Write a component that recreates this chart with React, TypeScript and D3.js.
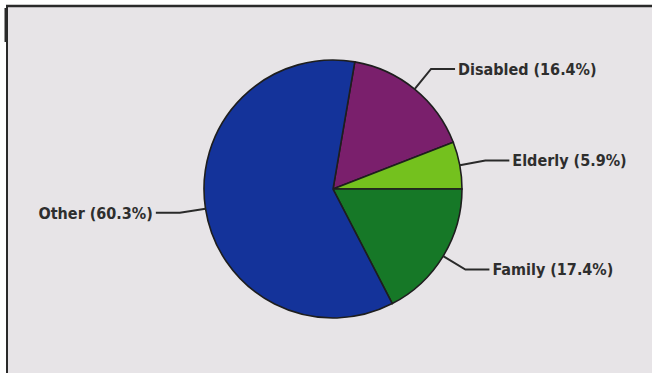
import React from "react";
import * as d3 from "d3";

const categories = ["Disabled", "Elderly", "Family", "Other"];
const values = [16.4, 5.9, 17.4, 60.3];
const colors = ["#7a1f6c", "#74c11e", "#167827", "#14339a"];

const W = 652;
const H = 373;
const cx = 333;
const cy = 189;
const R = 129;

export default function App() {
  const total = d3.sum(values);
  const start = Math.PI / 2 - 2 * Math.PI * ((values[0] + values[1]) / total);
  const pie = d3
    .pie<number>()
    .sort(null)
    .value((d) => d)
    .startAngle(start)
    .endAngle(start + 2 * Math.PI);
  const arcs = pie(values);
  const arc = d3.arc<d3.PieArcDatum<number>>().innerRadius(0).outerRadius(R);
  const outer = d3.arc<d3.PieArcDatum<number>>().innerRadius(R + 26).outerRadius(R + 26);
  const edge = d3.arc<d3.PieArcDatum<number>>().innerRadius(R).outerRadius(R);

  return (
    <svg
      width={W}
      height={H}
      style={{ position: "absolute", left: 0, top: 0, display: "block" }}
    >
      <rect x={0} y={0} width={W} height={H} fill="#ffffff" />
      <rect x={7} y={7} width={W - 7} height={H - 7} fill="#e7e4e7" />
      <line x1={6} y1={6} x2={W} y2={6} stroke="#2a2a2a" strokeWidth={2.5} />
      <line x1={7} y1={6} x2={7} y2={H} stroke="#2a2a2a" strokeWidth={2} />
      <line x1={5.5} y1={8} x2={5.5} y2={42} stroke="#2a2a2a" strokeWidth={2} />
      <g transform={`translate(${cx},${cy})`}>
        {arcs.map((a, i) => (
          <path
            key={categories[i]}
            d={arc(a) || ""}
            fill={colors[i]}
            stroke="#1e1e1e"
            strokeWidth={1.6}
          />
        ))}
        {arcs.map((a, i) => {
          const [x0, y0] = edge.centroid(a);
          const [x1, y1] = outer.centroid(a);
          const right = x1 > 0;
          const x2 = x1 + (right ? 24 : -24);
          return (
            <g key={"l" + categories[i]}>
              <polyline
                points={`${x0},${y0} ${x1},${y1} ${x2},${y1}`}
                fill="none"
                stroke="#2a2a2a"
                strokeWidth={2}
              />
              <text
                x={x2 + (right ? 3 : -3)}
                y={y1}
                dy="0.36em"
                textAnchor={right ? "start" : "end"}
                fontFamily="'DejaVu Sans Condensed', 'DejaVu Sans', sans-serif"
                fontWeight="bold"
                fontSize={16}
                fill="#2e2e2e"
              >
                {`${categories[i]} (${values[i].toFixed(1)}%)`}
              </text>
            </g>
          );
        })}
      </g>
    </svg>
  );
}
